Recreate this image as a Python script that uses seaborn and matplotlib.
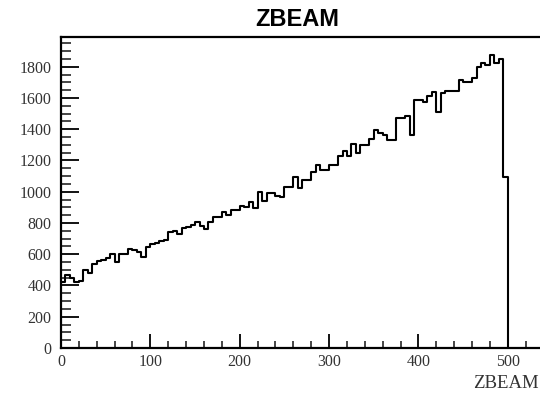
import numpy as np
import pandas as pd
import matplotlib
matplotlib.use("Agg")
import matplotlib.pyplot as plt
from matplotlib.ticker import MultipleLocator
import seaborn as sns

# ---- data ----
title = "ZBEAM"
x_label = "ZBEAM"
bin_low = 0
bin_high = 500
n_bins = 100
counts = [
    420, 467, 450, 420, 430, 499, 482, 540, 557, 560,
    574, 602, 548, 600, 602, 631, 625, 616, 585, 648,
    665, 675, 687, 690, 740, 747, 730, 771, 775, 790,
    804, 780, 760, 804, 836, 840, 872, 851, 883, 883,
    909, 905, 935, 893, 996, 943, 990, 990, 975, 969,
    1033, 1033, 1097, 1022, 1075, 1075, 1129, 1171, 1139, 1139,
    1171, 1171, 1229, 1263, 1229, 1303, 1246, 1299, 1299, 1336,
    1395, 1374, 1363, 1331, 1331, 1470, 1470, 1485, 1363, 1587,
    1587, 1577, 1615, 1641, 1513, 1630, 1645, 1645, 1645, 1715,
    1705, 1705, 1726, 1801, 1822, 1811, 1875, 1822, 1847, 1097,
]
x_ticks = [0, 100, 200, 300, 400, 500]
y_ticks = [0, 200, 400, 600, 800, 1000, 1200, 1400, 1600, 1800]

edges = np.linspace(bin_low, bin_high, n_bins + 1)
centers = 0.5 * (edges[:-1] + edges[1:])
df = pd.DataFrame({"z": centers, "w": counts})

sns.set_style("ticks")
plt.rcParams["font.family"] = ["Liberation Serif", "DejaVu Serif"]

fig = plt.figure(figsize=(5.4, 3.94), dpi=100)
ax = fig.add_axes([61 / 540, 46 / 394, 1 - 61 / 540, (348 - 37) / 394])

sns.histplot(data=df, x="z", weights="w",
             binwidth=(bin_high - bin_low) / n_bins,
             binrange=(bin_low, bin_high), element="step",
             fill=False, color="black", linewidth=1.5, ax=ax)
# closing edge of the histogram outline down to zero (as ROOT draws it)
ax.vlines(edges[-1], 0, counts[-1], color="black", linewidth=1.5)

ax.set_xlim(0, 536)
ax.set_ylim(0, 1990)
ax.set_xticks(x_ticks)
ax.set_yticks(y_ticks)
ax.xaxis.set_minor_locator(MultipleLocator(20))
ax.yaxis.set_minor_locator(MultipleLocator(50))
ax.tick_params(axis="both", which="major", direction="in", width=1.3,
               labelsize=11.5, colors="black")
ax.tick_params(axis="x", which="major", length=10, pad=4)
ax.tick_params(axis="y", which="major", length=13, pad=7)
ax.tick_params(axis="x", which="minor", direction="in", length=5, width=1.2)
ax.tick_params(axis="y", which="minor", direction="in", length=7, width=1.2)
for lab in ax.get_xticklabels() + ax.get_yticklabels():
    lab.set_color("#333333")

for side in ["left", "bottom", "top"]:
    ax.spines[side].set_visible(True)
    ax.spines[side].set_linewidth(1.6)
    ax.spines[side].set_color("black")
ax.spines["right"].set_visible(False)

ax.set_xlabel("")
ax.set_ylabel("")

fig.text(297 / 540, 1 - 20 / 394, title, ha="center", va="center",
         fontsize=17, fontweight="bold", color="black",
         family=["Liberation Sans", "DejaVu Sans"])
fig.text(539 / 540, 1 - 383 / 394, x_label, ha="right", va="center",
         fontsize=13.5, color="#333333")

fig.savefig("out.png", dpi=100)
